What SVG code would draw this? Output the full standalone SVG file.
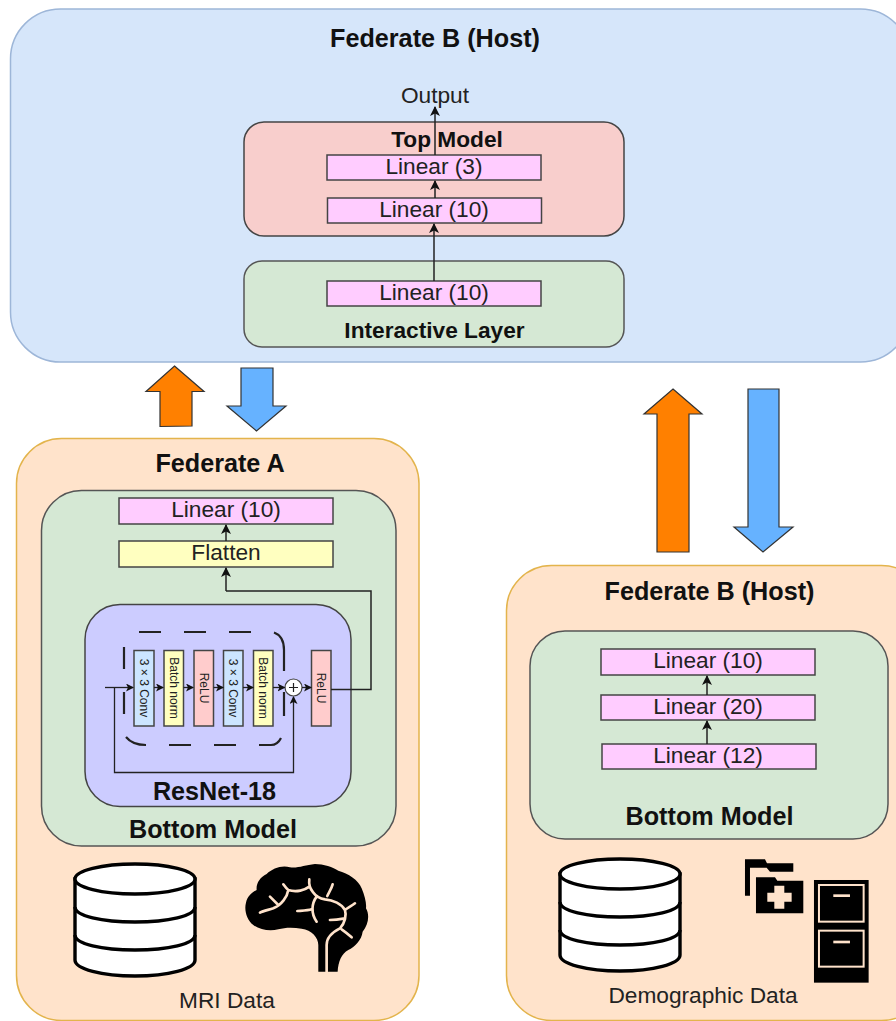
<svg xmlns="http://www.w3.org/2000/svg" width="896" height="1021" viewBox="0 0 896 1021">
<style>
text{font-family:"Liberation Sans",Arial,sans-serif;fill:#222;text-anchor:middle}
.t{font-weight:bold;font-size:25.2px;fill:#111}
.l{font-size:22.7px}
.lb{font-size:22.7px;font-weight:bold;fill:#111}
.r{font-size:12px}
.box{stroke:#444;stroke-width:1.5}
.pink{fill:#ffccff}
.green{fill:#d5e8d4;stroke:#555;stroke-width:1.5}
.peach{fill:#ffe3cb;stroke:#e3b44c;stroke-width:1.5}
.c{fill:none;stroke:#222;stroke-width:1.5;marker-end:url(#a)}
.cs{fill:none;stroke:#222;stroke-width:1.3;marker-end:url(#b)}
.n{fill:none;stroke:#222;stroke-width:1.5}
.db{fill:#fff;stroke:#000;stroke-width:3.4}
.dbl{fill:none;stroke:#000;stroke-width:3.4}
.dash{fill:none;stroke:#222;stroke-width:2.2}
.ar{stroke:#333;stroke-width:1.2}
.vein{fill:none;stroke:#ffe3cb;stroke-width:8;stroke-linecap:round;stroke-linejoin:round}
</style>
<defs>
<marker id="a" markerUnits="userSpaceOnUse" markerWidth="12" markerHeight="12" refX="9" refY="5" orient="auto"><path d="M0 0L10 5L0 10L2.500 5Z" fill="#111"/></marker>
<marker id="b" markerUnits="userSpaceOnUse" markerWidth="10" markerHeight="10" refX="7" refY="4" orient="auto"><path d="M0 0L8 4L0 8L2 4Z" fill="#111"/></marker>
<g id="dbicon">
<path class="db" d="M-60 0V81C-60 90-33 97 0 97S60 90 60 81V0Z"/>
<ellipse class="db" cx="0" cy="0" rx="60" ry="15"/>
<path class="dbl" d="M-60 28C-60 37-33 43 0 43S60 37 60 28M-60 56C-60 65-33 71 0 71S60 65 60 56"/>
</g>
</defs>

<g id="host-top">
<rect x="10.500" y="9" width="900" height="353" rx="50" fill="#d6e6fa" stroke="#9db6d8" stroke-width="1.500"/>
<text class="t" x="435" y="47">Federate B (Host)</text>
<text class="l" x="435" y="103">Output</text>
</g>
<g id="top-model">
<rect x="244" y="122" width="380" height="114" rx="20" fill="#f8cecc" stroke="#444" stroke-width="1.500"/>
<text class="lb" x="447" y="147">Top Model</text>
</g>
<g id="top-linear-3"><rect class="box pink" x="327" y="155" width="214" height="25"/><text class="l" x="434" y="174">Linear (3)</text></g>
<g id="top-linear-10"><rect class="box pink" x="327.500" y="198" width="214" height="25"/><text class="l" x="434" y="217">Linear (10)</text></g>
<g id="interactive-layer">
<rect class="green" x="244" y="261" width="380" height="86" rx="18"/>
<text class="lb" x="434.500" y="338">Interactive Layer</text>
</g>
<g id="interactive-linear"><rect class="box pink" x="327" y="281" width="214" height="25"/><text class="l" x="434" y="300">Linear (10)</text></g>

<g id="arrow-a-up"><path class="ar" fill="#ff8000" d="M174.500 366L204 391.500H192V426L160 426.500V391.500H146Z"/></g>
<g id="arrow-a-down"><path class="ar" fill="#66b2ff" d="M241 368H273V406H286L256.500 431L227 406H241Z"/></g>
<g id="arrow-b-up"><path class="ar" fill="#ff8000" d="M673 389L702 414H689V552H657V414H644Z"/></g>
<g id="arrow-b-down"><path class="ar" fill="#66b2ff" d="M748 389H779V527H793L763 552L734 527H748Z"/></g>

<g id="federate-a">
<rect class="peach" x="16.500" y="438.500" width="402.500" height="582" rx="45"/>
<text class="t" x="220" y="472">Federate A</text>
</g>
<g id="bottom-model-a">
<rect class="green" x="41.500" y="490.500" width="354.500" height="355.500" rx="40"/>
<text class="t" x="213" y="838">Bottom Model</text>
</g>
<g id="a-linear"><rect class="box pink" x="119" y="498" width="214" height="26"/><text class="l" x="226" y="517">Linear (10)</text></g>
<g id="a-flatten"><rect class="box" fill="#ffffc0" x="119" y="541" width="214" height="26"/><text class="l" x="226" y="560">Flatten</text></g>
<g id="resnet">
<rect x="85" y="604.500" width="266" height="202" rx="35" fill="#ccccff" stroke="#444" stroke-width="1.500"/>
<text class="t" x="214.500" y="800">ResNet-18</text>
<path class="dash" d="M139 632H161M184 632H206M229 632H251M274 632.500C281 635 284 641 284 650V671M284 692V716M124 647V669M124 692V714M126 737C130 742 136 745 146 745M169 745H191M214 745H236M259 745H271C275 745 279 742 281 738"/>
</g>
<g id="res-conv-1"><rect class="box" fill="#cce5ff" x="134" y="650.500" width="20" height="75.500"/><text class="r" transform="translate(144 688) rotate(90)" y="4">3 × 3 Conv</text></g>
<g id="res-bn-1"><rect class="box" fill="#ffffc0" x="164" y="650.500" width="19.500" height="75.500"/><text class="r" transform="translate(173.500 688) rotate(90)" y="4">Batch norm</text></g>
<g id="res-relu-1"><rect class="box" fill="#ffcccc" x="194" y="650.500" width="19.500" height="75.500"/><text class="r" transform="translate(203.500 688) rotate(90)" y="4">ReLU</text></g>
<g id="res-conv-2"><rect class="box" fill="#cce5ff" x="223.500" y="650.500" width="19.500" height="75.500"/><text class="r" transform="translate(233 688) rotate(90)" y="4">3 × 3 Conv</text></g>
<g id="res-bn-2"><rect class="box" fill="#ffffc0" x="253.500" y="650.500" width="19.500" height="75.500"/><text class="r" transform="translate(263 688) rotate(90)" y="4">Batch norm</text></g>
<g id="res-plus"><circle cx="293.500" cy="687.500" r="8.500" fill="#fff" stroke="#444" stroke-width="1.200"/><path d="M289 687.500H298M293.500 683V692" stroke="#222" stroke-width="1.200"/></g>
<g id="res-relu-3"><rect class="box" fill="#ffcccc" x="311.500" y="650.500" width="19.500" height="75.500"/><text class="r" transform="translate(321 688) rotate(90)" y="4">ReLU</text></g>

<g id="a-db"><use href="#dbicon" x="135" y="879"/></g>
<g id="brain" transform="translate(40 850) scale(.3333)">
<path fill="#000" d="M835 365V285C835 262 815 240 785 236C760 232 735 232 715 238C690 244 660 240 640 225C620 210 612 180 618 158C622 140 635 128 650 120C648 100 660 82 680 72C698 55 725 45 750 52C775 55 795 45 825 42C850 42 880 52 895 62C925 70 955 90 965 115C975 140 980 160 978 175C990 195 985 225 968 245C965 270 945 290 925 300C905 310 895 335 893 365Z"/>
<path class="vein" d="M860 365V285C860 262 880 245 900 235C915 220 920 195 915 180C905 162 880 150 855 148C838 145 825 135 818 125C810 115 806 105 808 88M808 110C795 120 770 128 745 120C740 116 735 110 730 103M745 120C742 140 725 165 700 175C685 180 670 182 660 188M690 140L715 165M830 140C815 160 812 190 830 215M772 183C790 182 805 182 815 178M870 210C885 210 900 208 910 206M862 138C868 125 875 115 878 103M915 180C925 172 935 168 945 160M905 238C915 245 925 253 935 262"/>
</g>
<g id="mri-label"><text class="l" x="227" y="1008">MRI Data</text></g>

<g id="federate-b">
<rect class="peach" x="506.500" y="565.500" width="420" height="455" rx="45"/>
<text class="t" x="709.500" y="600">Federate B (Host)</text>
</g>
<g id="bottom-model-b">
<rect class="green" x="530" y="631" width="358" height="208" rx="35"/>
<text class="t" x="709.500" y="825">Bottom Model</text>
</g>
<g id="b-linear-10"><rect class="box pink" x="601" y="649" width="214" height="26"/><text class="l" x="708" y="668">Linear (10)</text></g>
<g id="b-linear-20"><rect class="box pink" x="601" y="695" width="214" height="25"/><text class="l" x="708" y="714">Linear (20)</text></g>
<g id="b-linear-12"><rect class="box pink" x="602" y="744" width="214" height="25"/><text class="l" x="708" y="763">Linear (12)</text></g>

<g id="b-db"><use href="#dbicon" x="620" y="874"/></g>
<g id="folder" transform="translate(540 845) scale(.3333)">
<path fill="#000" d="M615 43H675L681 55H760V80H690L680 68H630V152H615Z"/>
<path fill="#000" d="M648 97H705L712 107H790V205H648Z"/>
<path fill="#ffe3cb" d="M703 122H733V143H755V170H733V191H703V170H682V143H703Z"/>
</g>
<g id="cabinet" transform="translate(540 845) scale(.3333)">
<rect x="822" y="105" width="164" height="308" fill="#000"/>
<rect x="837" y="120" width="134" height="110" fill="#000" stroke="#ffe3cb" stroke-width="6"/>
<rect x="837" y="257" width="134" height="108" fill="#000" stroke="#ffe3cb" stroke-width="6"/>
<rect x="880" y="148" width="50" height="8" fill="#ffe3cb"/>
<rect x="880" y="287" width="50" height="8" fill="#ffe3cb"/>
</g>
<g id="demo-label"><text class="l" x="703" y="1003">Demographic Data</text></g>

<g id="connectors">
<path class="c" d="M435 155V107"/>
<path class="c" d="M435 198V181"/>
<path class="c" d="M434 281V224"/>
<path class="c" d="M226 541V525"/>
<path class="n" d="M331 689.500H371V591H226"/>
<path class="c" d="M226 591V568"/>
<path class="c" d="M707 695V676"/>
<path class="c" d="M707 744V721"/>
<path class="cs" d="M105 687.500H133"/>
<path class="cs" d="M154 687.500H163"/>
<path class="cs" d="M183.500 687.500H193"/>
<path class="cs" d="M213.500 687.500H223"/>
<path class="cs" d="M243 687.500H253"/>
<path class="cs" d="M273 687.500H284.500"/>
<path class="cs" d="M302 687.500H311"/>
<path class="cs" d="M114.500 687.500V772.500H293.500V697"/>
</g>
</svg>
